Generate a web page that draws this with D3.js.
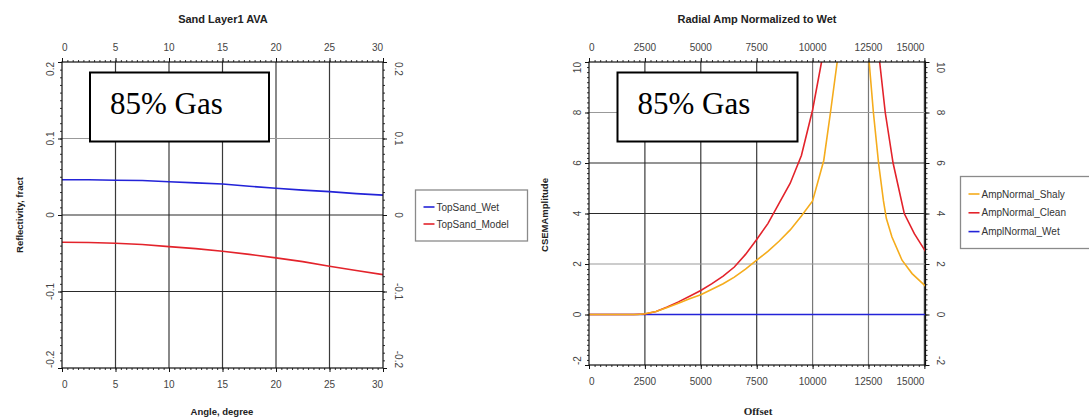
<!DOCTYPE html>
<html>
<head>
<meta charset="utf-8">
<script src="https://cdnjs.cloudflare.com/ajax/libs/d3/7.8.5/d3.min.js"></script>
<style>
    body { margin: 0; background: #fff; }
    svg { display: block; }
    text { font-family: "Liberation Sans", Arial, sans-serif; }
</style>
</head>
<body>
<svg id="chart" width="1089" height="417"></svg>
<script>
// left panel: AVA reflectivity vs angle
var angleDeg = [0, 2.5, 5, 7.5, 10, 12.5, 15, 17.5, 20, 22.5, 25, 27.5, 30]
var topSandWet = [0.046, 0.046, 0.0455, 0.045, 0.0435, 0.042, 0.0405, 0.0375, 0.035, 0.0325, 0.0305, 0.028, 0.026]
var topSandModel = [-0.0357, -0.036, -0.037, -0.0385, -0.0413, -0.044, -0.0474, -0.0515, -0.056, -0.061, -0.067, -0.0725, -0.078]
var angleTicks = [0, 5, 10, 15, 20, 25, 30]
var reflTicks = [-0.2, -0.1, 0, 0.1, 0.2]

// right panel: CSEM amplitude normalized to wet
var shalyOffset = [0, 2200, 2500, 3000, 3500, 4000, 4500, 5000, 5500, 6000, 6500, 7000, 7500, 8000, 8500, 9000, 9500, 10000,
    10250, 10500, 10800, 11100, 11300, 12400, 12530, 12720, 12950, 13170, 13300, 13550, 14000, 14450, 15050]
var shalyAmp = [0, 0, 0.03, 0.12, 0.28, 0.45, 0.62, 0.78, 1.0, 1.22, 1.48, 1.8, 2.15, 2.5, 2.9, 3.35, 3.9, 4.5,
    5.3, 6.1, 8, 10, 11.5, 11.5, 10, 8, 6, 4.5, 3.8, 3.07, 2.15, 1.62, 1.12]
var cleanOffset = [0, 2000, 2500, 3000, 3500, 4000, 4500, 5000, 5500, 6000, 6500, 7000, 7500, 8000, 8500, 9000, 9500, 10000,
    10400, 10800, 12700, 13000, 13250, 13600, 14100, 14550, 15050]
var cleanAmp = [0, 0, 0.02, 0.12, 0.3, 0.5, 0.72, 0.95, 1.22, 1.52, 1.88, 2.38, 2.97, 3.6, 4.4, 5.2, 6.3, 8.1,
    10, 12, 12, 10, 8, 6, 4, 3.2, 2.5]
var wetOffset = [0, 15050]
var wetAmp = [0, 0]
var offsetTicks = [0, 2500, 5000, 7500, 10000, 12500, 15000]
var ampTicks = [-2, 0, 2, 4, 6, 8, 10]

var svg = d3.select('#chart')

// plain hyphen minus, "0" without decimals, like the original plots
var fmtRefl = function (d) { return d === 0 ? '0' : d.toFixed(1) }
var fmtAmp = function (d) { return String(d) }

drawPanel({
    id: 'p1', left: 62, right: 383, top: 62, bottom: 368,
    xDomain: [0, 30], yDomain: [-0.2, 0.2],
    xTicks: angleTicks, yTicks: reflTicks, xMinor: 0.5, yMinor: 0.01,
    lightY: [0.1], lightX: [],
    yFormat: fmtRefl,
    title: 'Sand Layer1 AVA', titleX: 223,
    xTitle: 'Angle, degree', xTitleX: 222, xTitleSerif: false,
    yTitle: 'Reflectivity, fract', yTitleX: 20,
    series: [
        {name: 'TopSand_Wet', xs: angleDeg, ys: topSandWet, color: '#2323d8'},
        {name: 'TopSand_Model', xs: angleDeg, ys: topSandModel, color: '#e3232b'}
    ],
    legend: {x: 415.5, y: 190, w: 112, h: 51, first: 207, step: 17, order: [0, 1]},
    note: {x: 90, y: 72.5, w: 179, h: 69}
})

drawPanel({
    id: 'p2', left: 589, right: 925.5, top: 62, bottom: 365,
    xDomain: [0, 15050], yDomain: [-2, 10],
    xTicks: offsetTicks, yTicks: ampTicks, xMinor: 250, yMinor: 0.2,
    lightY: [8, 2], lightX: [10000, 12500],
    yFormat: fmtAmp,
    title: 'Radial Amp Normalized to Wet', titleX: 757,
    xTitle: 'Offset', xTitleX: 758, xTitleSerif: true,
    yTitle: 'CSEMAmplitude', yTitleX: 545,
    series: [
        {name: 'AmplNormal_Wet', xs: wetOffset, ys: wetAmp, color: '#2323d8'},
        {name: 'AmpNormal_Clean', xs: cleanOffset, ys: cleanAmp, color: '#e3232b'},
        {name: 'AmpNormal_Shaly', xs: shalyOffset, ys: shalyAmp, color: '#f5ac1c'}
    ],
    legend: {x: 960.5, y: 176.5, w: 140, h: 72, first: 194, step: 18.8, order: [2, 1, 0]},
    note: {x: 617.5, y: 72.5, w: 180, h: 69}
})

function drawPanel(cfg) {
    var x = d3.scaleLinear().domain(cfg.xDomain).range([cfg.left, cfg.right])
    var y = d3.scaleLinear().domain(cfg.yDomain).range([cfg.bottom, cfg.top])
    var g = svg.append('g')
    var w = cfg.right - cfg.left, h = cfg.bottom - cfg.top

    // grid
    g.selectAll('.vg').data(cfg.xTicks.filter(function (d) { return d > cfg.xDomain[0] && d < cfg.xDomain[1] }))
        .enter().append('line')
        .attr('x1', function (d) { return x(d) }).attr('x2', function (d) { return x(d) })
        .attr('y1', cfg.top).attr('y2', cfg.bottom)
        .attr('stroke', function (d) { return cfg.lightX.indexOf(d) >= 0 ? '#777' : '#3a3a3a' })
        .attr('stroke-width', 1.2)
    g.selectAll('.hg').data(cfg.yTicks.filter(function (d) { return d > cfg.yDomain[0] && d < cfg.yDomain[1] }))
        .enter().append('line')
        .attr('y1', function (d) { return y(d) }).attr('y2', function (d) { return y(d) })
        .attr('x1', cfg.left).attr('x2', cfg.right)
        .attr('stroke', function (d) { return cfg.lightY.indexOf(d) >= 0 ? '#999' : '#2a2a2a' })
        .attr('stroke-width', 1.2)

    // minor + major ticks on all four sides
    var xMinorVals = d3.range(cfg.xDomain[0], cfg.xDomain[1] + 1e-9, cfg.xMinor)
    var yMinorVals = d3.range(cfg.yDomain[0], cfg.yDomain[1] + 1e-9, cfg.yMinor)
    var axes = [
        [d3.axisTop(x), 'translate(0,' + cfg.top + ')', xMinorVals, cfg.xTicks],
        [d3.axisBottom(x), 'translate(0,' + cfg.bottom + ')', xMinorVals, cfg.xTicks],
        [d3.axisLeft(y), 'translate(' + cfg.left + ',0)', yMinorVals, cfg.yTicks],
        [d3.axisRight(y), 'translate(' + cfg.right + ',0)', yMinorVals, cfg.yTicks]
    ]
    axes.forEach(function (a) {
        g.append('g').attr('transform', a[1])
            .call(a[0].tickValues(a[2]).tickSize(2).tickSizeOuter(0).tickFormat(''))
            .call(function (s) { s.select('.domain').remove(); s.selectAll('line').attr('stroke', '#333') })
        g.append('g').attr('transform', a[1])
            .call(a[0].tickValues(a[3]).tickSize(4).tickSizeOuter(0).tickFormat(''))
            .call(function (s) { s.select('.domain').remove(); s.selectAll('line').attr('stroke', '#111') })
    })

    // data lines
    g.append('clipPath').attr('id', 'clip-' + cfg.id).append('rect')
        .attr('x', cfg.left).attr('y', cfg.top).attr('width', w).attr('height', h)
    var line = d3.line().x(function (d) { return x(d[0]) }).y(function (d) { return y(d[1]) })
    cfg.series.forEach(function (s) {
        g.append('path')
            .datum(d3.zip(s.xs, s.ys))
            .attr('d', line)
            .attr('fill', 'none')
            .attr('stroke', s.color)
            .attr('stroke-width', 1.6)
            .attr('clip-path', 'url(#clip-' + cfg.id + ')')
    })

    // frame
    g.append('rect').attr('x', cfg.left).attr('y', cfg.top).attr('width', w).attr('height', h)
        .attr('fill', 'none').attr('stroke', '#111').attr('stroke-width', 1.2)

    // tick labels
    var n = cfg.xTicks.length
    ;[cfg.top - 11, cfg.bottom + 20].forEach(function (ty) {
        g.selectAll(null).data(cfg.xTicks).enter().append('text')
            .attr('x', function (d) { return x(d) })
            .attr('y', ty)
            .attr('text-anchor', function (d, i) { return i == 0 ? 'start' : (i == n - 1 ? 'end' : 'middle') })
            .attr('font-size', 10).attr('fill', '#444')
            .text(function (d) { return d })
    })
    var m = cfg.yTicks.length
    g.selectAll(null).data(cfg.yTicks).enter().append('text')
        .attr('transform', function (d) { return 'translate(' + (cfg.left - 12) + ',' + y(d) + ') rotate(-90)' })
        .attr('dy', '0.35em')
        .attr('text-anchor', function (d, i) { return i == 0 ? 'start' : (i == m - 1 ? 'end' : 'middle') })
        .attr('font-size', 10).attr('fill', '#444')
        .text(cfg.yFormat)
    g.selectAll(null).data(cfg.yTicks).enter().append('text')
        .attr('transform', function (d) { return 'translate(' + (cfg.right + 15) + ',' + y(d) + ') rotate(90)' })
        .attr('dy', '0.35em')
        .attr('text-anchor', function (d, i) { return i == 0 ? 'end' : (i == m - 1 ? 'start' : 'middle') })
        .attr('font-size', 10).attr('fill', '#444')
        .text(cfg.yFormat)

    // titles
    g.append('text').attr('x', cfg.titleX).attr('y', 23).attr('text-anchor', 'middle')
        .attr('font-size', 11).attr('font-weight', 'bold').attr('fill', '#222').text(cfg.title)
    var xt = g.append('text').attr('x', cfg.xTitleX).attr('y', 415).attr('text-anchor', 'middle')
        .attr('font-weight', 'bold').attr('fill', '#222').text(cfg.xTitle)
    if (cfg.xTitleSerif) {
        xt.style('font-family', '"Liberation Serif", "Times New Roman", serif').attr('font-size', 11)
    } else {
        xt.attr('font-size', 9.5)
    }
    g.append('text')
        .attr('transform', 'translate(' + cfg.yTitleX + ',' + 215 + ') rotate(-90)')
        .attr('dy', '0.35em').attr('text-anchor', 'middle')
        .attr('font-size', 9.5).attr('font-weight', 'bold').attr('fill', '#222').text(cfg.yTitle)

    // legend
    var L = cfg.legend
    g.append('rect').attr('x', L.x).attr('y', L.y).attr('width', L.w).attr('height', L.h)
        .attr('fill', '#fff').attr('stroke', '#8a8a8a').attr('stroke-width', 1.3)
    L.order.forEach(function (si, k) {
        var s = cfg.series[si], ly = L.first + k * L.step
        g.append('line').attr('x1', L.x + 8).attr('x2', L.x + 19).attr('y1', ly).attr('y2', ly)
            .attr('stroke', s.color).attr('stroke-width', 1.6)
        g.append('text').attr('x', L.x + 21).attr('y', ly + 3.6)
            .attr('font-size', 10).attr('fill', '#333').text(s.name)
    })

    // annotation box
    var N = cfg.note
    g.append('rect').attr('x', N.x).attr('y', N.y).attr('width', N.w).attr('height', N.h)
        .attr('fill', '#fff').attr('stroke', '#000').attr('stroke-width', 2)
    g.append('text').attr('x', N.x + 20).attr('y', N.y + 41)
        .style('font-family', '"Liberation Serif", "Times New Roman", serif')
        .attr('font-size', 31).attr('fill', '#000').text('85% Gas')
}
</script>
</body>
</html>
